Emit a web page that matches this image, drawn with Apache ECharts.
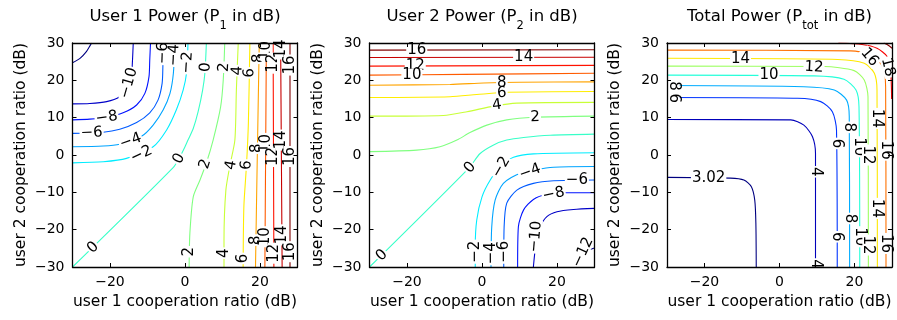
<!DOCTYPE html>
<html>
<head>
<meta charset="utf-8">
<title>Power contours</title>
<script src="https://cdn.jsdelivr.net/npm/echarts@6/dist/echarts.min.js"></script>
<style>
  html, body { margin: 0; padding: 0; background: #fff; }
  #chart { width: 897px; height: 320px; }
</style>
</head>
<body>
<div id="chart"></div>
<script>
// tick labels (dB)
const xTicks = [-20, 0, 20];
const yTicks = [-30, -20, -10, 0, 10, 20, 30];

// ---- panel 1: user 1 power ----
const p1Levels = [-12, -10, -8, -6, -4, -2, 0, 2, 4, 6, 8, 10, 12, 14, 16];
const p1Lines = [
  [[-30, 24.7], [-28, 25.9], [-26.3, 27.7], [-25.2, 29.5], [-24.9, 30]],
  [[-30, 13.7], [-25.4, 13.8], [-20.9, 14.3], [-17.4, 15.6], [-15.2, 17.9], [-14.3, 21.0], [-14.0, 25.4], [-13.8, 30]],
  [[-30, 9.4], [-25.4, 9.6], [-20.9, 10.1], [-16.5, 11.3], [-12.9, 13.4], [-10.7, 16.5], [-9.6, 21.0], [-9.4, 25.4], [-9.2, 30]],
  [[-30, 5.8], [-21.8, 6.1], [-17.4, 6.9], [-12.9, 8.7], [-9.4, 11.3], [-7.2, 14.7], [-6.1, 19.2], [-5.9, 23.7], [-5.8, 30]],
  [[-30, 2.2], [-21.8, 2.4], [-17.4, 2.9], [-11.6, 5.0], [-8.5, 8.0], [-5.8, 12.1], [-4.0, 16.5], [-3.1, 21.9], [-2.7, 30]],
  [[-30, -2.1], [-21.8, -1.8], [-15.6, -0.9], [-8.5, 2.2], [-4.9, 6.7], [-2.3, 12.1], [-0.5, 17.4], [0.4, 21.9], [0.8, 30]],
  [[-30, -30], [-3.1, -3.3], [-1.4, -0.6], [0, 2.2], [0.8, 4.0], [2.2, 7.1], [3.5, 11.6], [4.7, 17.4], [5.3, 21.9], [5.7, 30]],
  [[1.1, -30], [1.3, -21], [2.2, -11.2], [4.0, -6.7], [5.8, -1.8], [7.5, 4.0], [9.5, 12.9], [10.2, 20.1], [10.6, 30]],
  [[10.4, -30], [10.4, -22.8], [10.9, -9.4], [12.0, -2.7], [13.3, 4.0], [13.7, 17.4], [14.2, 30]],
  [[15.5, -30], [15.7, -13.8], [16.4, -2.7], [16.9, 8.5], [17.3, 30]],
  [[18.8, -30], [19.2, -5], [19.8, 30]],
  [[21.3, -30], [21.5, 0], [21.7, 30]],
  [[23.7, -30], [23.6, 0], [23.5, 30]],
  [[25.9, -30], [25.7, 0], [25.5, 30]],
  [[28, -30], [28, 30]]
];
// [x, y, level, angle]
const p1Labels = [
  [-15.0, 19.2, -10, 74], [-20.9, 10.0, -8, 8], [-24.9, 5.9, -6, 2],
  [-14.5, 3.7, -4, 20], [-11.6, 0.2, -2, 25], [-1.6, -1.0, 0, 62],
  [5.4, -2.4, 2, 72], [12.3, -2.7, 4, 80], [16.4, -2.7, 6, 85],
  [19.2, 1.8, 8, 90], [21.5, 3.1, 10, 90], [23.6, -0.4, 12, 90], [25.7, 4.0, 14, 90], [28, -0.4, 16, 90],
  [-5.9, 27.3, -6, 88], [-2.9, 26.8, -4, 87], [0.6, 24.8, -2, 86], [5.5, 23.5, 0, 86],
  [10.4, 23.5, 2, 87], [14.0, 22.6, 4, 88], [17.2, 22.0, 6, 89],
  [19.7, 25.9, 8, 90], [21.7, 28.0, 10, 90], [23.5, 24.6, 12, 90], [25.5, 28.4, 14, 90], [28, 24.1, 16, 90],
  [-24.5, -24.8, 0, 45], [1.1, -25.9, 2, 90], [10.4, -26.3, 4, 90], [15.5, -27.7, 6, 90],
  [18.9, -22.8, 8, 90], [21.4, -21.9, 10, 90], [23.7, -26.3, 12, 90], [25.8, -21.4, 14, 90], [28, -25.9, 16, 90]
];

// ---- panel 2: user 2 power ----
const p2Levels = [-12, -10, -8, -6, -4, -2, 0, 2, 4, 6, 8, 10, 12, 14, 16];
const p2Lines = [
  [[25.1, -30], [25.8, -28], [27.2, -26], [30, -24.9]],
  [[30, -14.3], [24.4, -14.6], [20, -15.2], [17.3, -16.5], [15.5, -19.2], [14.5, -22.8], [13.7, -30]],
  [[30, -10.1], [22.6, -10.1], [17.3, -10.5], [13.7, -11.9], [11.1, -14.7], [9.7, -19.2], [9.5, -30]],
  [[30, -6.7], [19.1, -6.9], [13.7, -7.6], [9.3, -9.4], [6.6, -12.9], [5.9, -19.2], [5.8, -30]],
  [[30, -3.1], [19.1, -3.3], [10.2, -4.9], [5.7, -7.6], [3.5, -12.1], [2.6, -19.2], [2.4, -30]],
  [[30, 0.6], [13.7, 0.3], [8.4, -0.6], [5.0, -3.0], [2.2, -6.7], [0, -11.2], [-1.4, -17.4], [-1.8, -24.6], [-1.8, -30]],
  [[-30, -30], [-3.5, -3.5], [-0.5, 0.4], [3.1, 2.7], [6.6, 4.0], [11.1, 4.7], [18.2, 5.3], [30, 5.6]],
  [[-30, 0.9], [-17.4, 1.3], [-11.2, 2.2], [-6.7, 4.0], [-3.2, 6.0], [1.3, 8.0], [6.6, 9.4], [13.7, 10.1], [30, 10.4]],
  [[-30, 10.4], [-10.3, 10.6], [-4, 11.6], [3.1, 13.1], [9.3, 13.9], [30, 14.1]],
  [[-30, 15.4], [-8.5, 15.6], [-1.4, 16.2], [6.6, 16.8], [30, 17.0]],
  [[-30, 18.7], [-8.5, 18.9], [0.4, 19.3], [10, 19.5], [30, 19.6]],
  [[-30, 21.4], [-5, 21.6], [30, 21.9]],
  [[-30, 23.8], [30, 24.0]],
  [[-30, 26.1], [30, 26.2]],
  [[-30, 28.1], [30, 28.2]]
];
const p2Labels = [
  [-17.4, 28.1, 16, 0], [11.1, 26.2, 14, 0], [-17.8, 23.8, 12, 0], [-18.7, 21.5, 10, 0],
  [5.3, 19.3, 8, 0], [5.3, 16.6, 6, 3], [4.0, 13.3, 4, 8], [14.2, 10.1, 2, 2],
  [-3.2, -3.4, 0, 50], [-26.7, -26.9, 0, 45], [5.1, -3.3, -2, 60], [12.8, -4.5, -4, 20],
  [25.3, -6.8, -6, 0], [19.1, -10.5, -8, 12], [14.3, -21.9, -10, 85], [26.9, -26.1, -12, 65],
  [-1.8, -25.9, -2, 90], [2.4, -26.3, -4, 90], [5.8, -25.9, -6, 90]
];

// ---- panel 3: total power ----
const p3Levels = [3.02, 4, 6, 8, 10, 12, 14, 16, 18, 20];
const p3Lines = [
  [[-30, -6.0], [-13.1, -6.2], [-9.5, -6.7], [-7.5, -8.5], [-6.6, -12.1], [-6.3, -18.3], [-6.2, -30]],
  [[-30, 9.5], [3.0, 9.4], [6.5, 8.0], [8.8, 4.9], [9.6, 0.4], [9.6, -30]],
  [[-30, 15.4], [4.8, 15.2], [11.0, 14.3], [14.1, 11.6], [15.2, 6.7], [15.4, -30]],
  [[-30, 18.6], [6.5, 18.3], [14.6, 17.4], [17.9, 14.7], [18.6, 10.3], [18.7, -30]],
  [[-30, 21.4], [9.2, 21.2], [17.2, 20.3], [20.4, 17.4], [21.2, 12.9], [21.4, -30]],
  [[-30, 23.8], [11.9, 23.7], [19.9, 22.6], [22.6, 20.1], [23.6, 15.6], [23.7, -30]],
  [[-30, 25.9], [15.5, 25.6], [22.6, 24.6], [25.3, 21.9], [26.0, 17.4], [26.1, -30]],
  [[-30, 28.1], [19.0, 27.9], [24.4, 26.8], [27.5, 23.7], [28.3, 18.3], [28.4, -30]],
  [[15.7, 30], [22, 29.6], [26, 28.6], [28.6, 26.5], [29.6, 23], [29.9, 15]],
  [[27.8, 30], [29, 29.4], [30, 28.6]]
];
const p3Labels = [
  [-10.4, 25.8, 14, 0], [9.2, 23.5, 12, -3], [-2.8, 21.3, 10, 0],
  [-28.2, 18.5, 8, -90], [-28.2, 15.2, 6, -90], [-18.9, -6.1, 3.02, 0],
  [24.0, 26.2, 16, -50], [28.9, 23.5, 18, -75],
  [9.6, -4.5, 4, -90], [9.6, -29.2, 4, -90],
  [15.3, 3.1, 6, -90], [15.4, -21.9, 6, -90],
  [18.6, 7.4, 8, -90], [18.7, -17.0, 8, -90],
  [21.2, 2.2, 10, -90], [21.4, -21.9, 10, -90],
  [23.6, 0.0, 12, -90], [23.7, -24.1, 12, -90],
  [26.0, 9.8, 14, -90], [26.1, -14.3, 14, -90],
  [28.3, 1.3, 16, -90], [28.4, -23.7, 16, -90]
];

const FONT = 'DejaVu Sans';
const minus = v => String(v).replace('-', '\u2212');

// MATLAB jet colormap
function jet(t) {
  const c = v => Math.round(255 * Math.max(0, Math.min(1, v)));
  return 'rgb(' + c(1.5 - Math.abs(4 * t - 3)) + ',' + c(1.5 - Math.abs(4 * t - 2)) + ',' + c(1.5 - Math.abs(4 * t - 1)) + ')';
}

const panels = [
  { left: 72.5, title: ['User 1 Power (P', '1', ' in dB)'], levels: p1Levels, lines: p1Lines, labels: p1Labels, lo: -12, hi: 16 },
  { left: 369.5, title: ['User 2 Power (P', '2', ' in dB)'], levels: p2Levels, lines: p2Lines, labels: p2Labels, lo: -12, hi: 16 },
  { left: 667, title: ['Total Power (P', 'tot', ' in dB)'], levels: p3Levels, lines: p3Lines, labels: p3Labels, lo: 3.02, hi: 20 }
];
const TOP = 43, W = 225, H = 224;
const TITLE_FONT = '16.5px "DejaVu Sans"';
const SUB_FONT = '11.5px "DejaVu Sans"';

const ctx = document.createElement('canvas').getContext('2d');
function textWidth(s, font) { ctx.font = font; return ctx.measureText(s).width; }

const grid = [], xAxis = [], yAxis = [], series = [], graphic = [];

panels.forEach((p, i) => {
  grid.push({ left: p.left, top: TOP, width: W, height: H, containLabel: false, outerBoundsMode: 'none' });

  const line = { show: true, onZero: false, lineStyle: { color: '#000', width: 1.3 } };
  const tick = vals => ({ show: true, inside: true, length: 4, customValues: vals, lineStyle: { color: '#000', width: 1 } });
  const lab = vals => ({ show: true, customValues: vals, formatter: minus, color: '#000', fontFamily: FONT, fontSize: 14, margin: 8 });
  const nameStyle = { color: '#000', fontFamily: FONT, fontSize: 15.5 };

  xAxis.push({
    gridIndex: i, type: 'value', min: -30, max: 30, position: 'bottom', z: 10,
    axisLine: line, axisTick: tick(xTicks), axisLabel: lab(xTicks), splitLine: { show: false },
    name: 'user 1 cooperation ratio (dB)', nameLocation: 'middle', nameGap: 22, nameTextStyle: nameStyle
  });
  xAxis.push({
    gridIndex: i, type: 'value', min: -30, max: 30, position: 'top', z: 10,
    axisLine: line, axisTick: tick(xTicks), axisLabel: { show: false }, splitLine: { show: false }
  });
  yAxis.push({
    gridIndex: i, type: 'value', min: -30, max: 30, position: 'left', z: 10,
    axisLine: line, axisTick: tick(yTicks), axisLabel: lab(yTicks), splitLine: { show: false },
    name: 'user 2 cooperation ratio (dB)', nameLocation: 'middle', nameGap: 44, nameRotate: 90, nameTextStyle: nameStyle
  });
  yAxis.push({
    gridIndex: i, type: 'value', min: -30, max: 30, position: 'right', z: 10,
    axisLine: line, axisTick: tick(yTicks), axisLabel: { show: false }, splitLine: { show: false }
  });

  p.levels.forEach((lv, j) => {
    series.push({
      type: 'line', xAxisIndex: 2 * i, yAxisIndex: 2 * i, data: p.lines[j],
      symbol: 'none', smooth: 0.25, silent: true, z: 2,
      lineStyle: { color: jet((lv - p.lo) / (p.hi - p.lo)), width: 1.1 }
    });
  });

  series.push({
    type: 'scatter', xAxisIndex: 2 * i, yAxisIndex: 2 * i, symbolSize: 0, silent: true, z: 5,
    itemStyle: { color: '#000', opacity: 1 },
    label: {
      show: true, position: 'inside', color: '#000', fontFamily: FONT, fontSize: 15,
      backgroundColor: '#fff', padding: [0, 1], lineHeight: 12, opacity: 1,
      textBorderColor: 'transparent', textBorderWidth: 0
    },
    data: p.labels.map(l => ({ value: [l[0], l[1]], label: { rotate: l[3], formatter: minus(l[2]) } }))
  });

  // title with a real subscript: three text pieces placed side by side
  const [t1, t2, t3] = p.title;
  const w1 = textWidth(t1, TITLE_FONT), w2 = textWidth(t2, SUB_FONT), w3 = textWidth(t3, TITLE_FONT);
  const x0 = p.left + W / 2 - (w1 + w2 + w3) / 2;
  graphic.push({ type: 'text', x: x0, y: 16.5, silent: true,
    style: { text: t1, font: TITLE_FONT, fill: '#000', align: 'left', verticalAlign: 'middle' } });
  graphic.push({ type: 'text', x: x0 + w1, y: 26.5, silent: true,
    style: { text: t2, font: SUB_FONT, fill: '#000', align: 'left', verticalAlign: 'middle' } });
  graphic.push({ type: 'text', x: x0 + w1 + w2, y: 16.5, silent: true,
    style: { text: t3, font: TITLE_FONT, fill: '#000', align: 'left', verticalAlign: 'middle' } });
});

const chart = echarts.init(document.getElementById('chart'), null, { renderer: 'canvas' });
chart.setOption({
  animation: false,
  backgroundColor: '#fff',
  grid, xAxis, yAxis, series, graphic
});
</script>
</body>
</html>
